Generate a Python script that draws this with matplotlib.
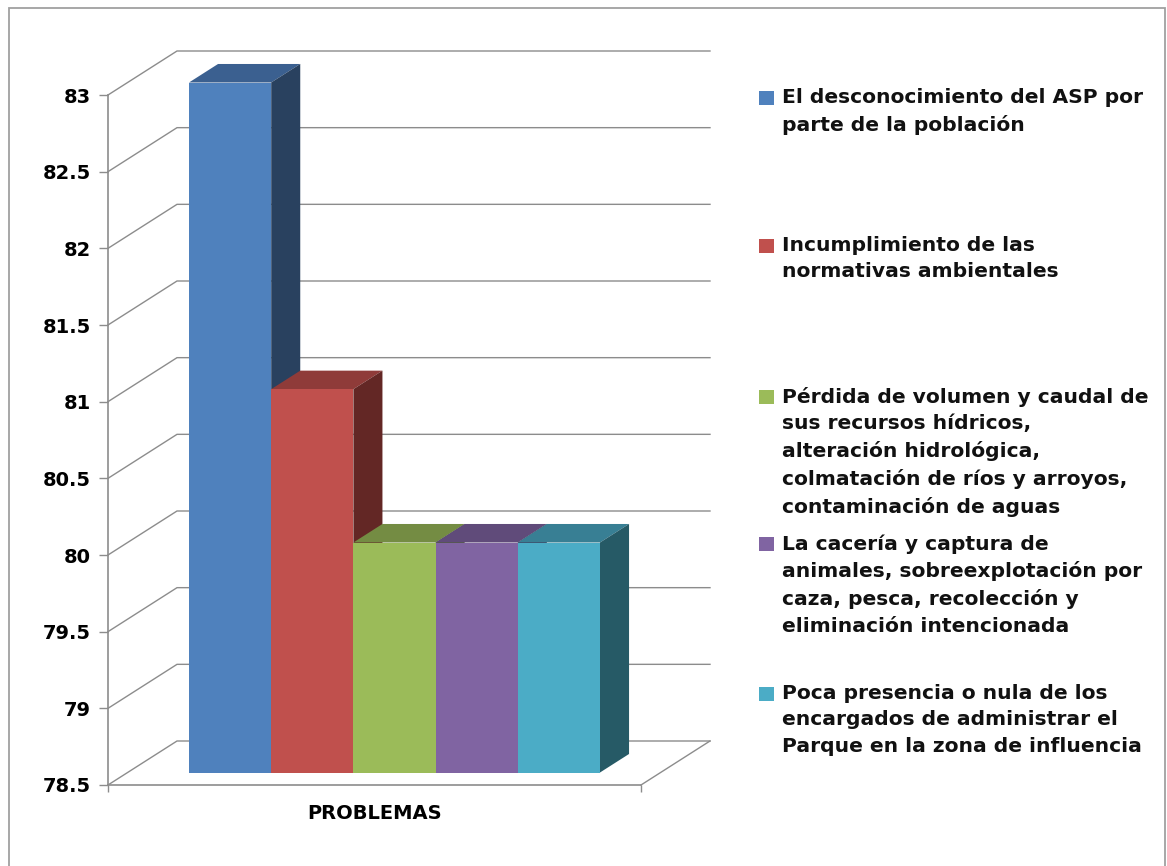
import matplotlib
matplotlib.use("Agg")
import matplotlib.pyplot as plt
from matplotlib.patches import Polygon, Rectangle
from matplotlib.ticker import FormatStrFormatter

categories = [
    "El desconocimiento del ASP por\nparte de la población",
    "Incumplimiento de las\nnormativas ambientales",
    "Pérdida de volumen y caudal de\nsus recursos hídricos,\nalteración hidrológica,\ncolmatación de ríos y arroyos,\ncontaminación de aguas",
    "La cacería y captura de\nanimales, sobreexplotación por\ncaza, pesca, recolección y\neliminación intencionada",
    "Poca presencia o nula de los\nencargados de administrar el\nParque en la zona de influencia",
]
values = [83, 81, 80, 80, 80]
y_ticks = [78.5, 79, 79.5, 80, 80.5, 81, 81.5, 82, 82.5, 83]
axis_label = "PROBLEMAS"

front_colors = ["#4F81BD", "#C0504D", "#9BBB59", "#8064A2", "#4BACC6"]
top_colors = ["#3B6090", "#8F3B39", "#748C43", "#604B7A", "#387F94"]
side_colors = ["#29415F", "#632725", "#4F6230", "#423454", "#265A66"]
legend_y = [98, 246, 397, 544, 694]

W, H = 1167, 866
fig = plt.figure(figsize=(W / 100, H / 100), dpi=100)
fig.patch.set_facecolor("white")
plt.rcParams["font.family"] = ["DejaVu Sans"]

AX_L, AX_R, AX_T, AX_B = 108, 641, 95, 785
ax = fig.add_axes([AX_L / W, 1 - AX_B / H, (AX_R - AX_L) / W, (AX_B - AX_T) / H])
ax.set_facecolor("none")

unit_px = 82.2
x0 = -0.5 - (169.4 - AX_L) / unit_px
x1 = x0 + (AX_R - AX_L) / unit_px
ax.set_xlim(x0, x1)
ax.set_ylim(y_ticks[0], y_ticks[-1])
val_px = (AX_B - AX_T) / (y_ticks[-1] - y_ticks[0])

# oblique depth vector (full chart depth), expressed in data units
DX, DY = 69 / unit_px, 44 / val_px
GRID = "#8C8C8C"


def proj(x, y, d):
    return x + d * DX, y + d * DY


# back wall gridlines and left wall diagonals
for v in y_ticks:
    a = proj(x0, v, 0)
    b = proj(x0, v, 1)
    c = proj(x1, v, 1)
    ax.plot([a[0], b[0], c[0]], [a[1], b[1], c[1]], color=GRID, lw=1.0,
            clip_on=False, zorder=1, solid_joinstyle="miter")
# floor right edge
a = proj(x1, y_ticks[0], 0)
b = proj(x1, y_ticks[0], 1)
ax.plot([a[0], b[0]], [a[1], b[1]], color=GRID, lw=1.0, clip_on=False, zorder=1)

# bars
d_front, d_back = 0.284, 0.705
base = y_ticks[0]
for i, v in enumerate(values):
    xl, xr = i - 0.5, i + 0.5
    z = 2 + i
    top = [proj(xl, v, d_front), proj(xr, v, d_front), proj(xr, v, d_back), proj(xl, v, d_back)]
    side = [proj(xr, base, d_front), proj(xr, v, d_front), proj(xr, v, d_back), proj(xr, base, d_back)]
    ax.add_patch(Polygon(top, closed=True, fc=top_colors[i], ec="none", clip_on=False, zorder=z))
    ax.add_patch(Polygon(side, closed=True, fc=side_colors[i], ec="none", clip_on=False, zorder=z))
    fx, fy = proj(i, base, d_front)
    ax.bar(fx, v - base, width=1.0, bottom=fy, color=front_colors[i], edgecolor="none",
           clip_on=False, zorder=z + 0.5)

# axes
for s in ("top", "right"):
    ax.spines[s].set_visible(False)
for s in ("left", "bottom"):
    ax.spines[s].set_color(GRID)
    ax.spines[s].set_linewidth(1.2)
    ax.spines[s].set_zorder(20)
ax.set_yticks(y_ticks)
ax.yaxis.set_major_formatter(FormatStrFormatter("%g"))
ax.tick_params(axis="y", length=6.5, width=1.0, color=GRID, pad=6, labelsize=14, labelcolor="black")
for t in ax.get_yticklabels():
    t.set_fontweight("bold")
ax.set_xticks([x0, x1])
ax.set_xticklabels(["", ""])
ax.tick_params(axis="x", length=5, width=1.0, color=GRID)
ax.set_xlabel(axis_label, fontsize=14, fontweight="bold", labelpad=5, color="black")

# legend
for name, col, y in zip(categories, front_colors, legend_y):
    fig.add_artist(Rectangle((759 / W, 1 - (y + 7) / H), 15 / W, 14 / H, fc=col, ec="none",
                             transform=fig.transFigure))
    fig.text(782 / W, 1 - (y - 10) / H, name, fontsize=14.6, fontweight="bold", color="#111111",
             ha="left", va="top", linespacing=1.49)

# frame of the chart area (its bottom edge falls outside the picture)
fig.add_artist(Rectangle((8.5 / W, -0.02), (1165 - 8.5) / W, 1.02 - 7.5 / H, fc="none", ec="#A0A0A0",
                         lw=1.3, transform=fig.transFigure, clip_on=False))

fig.savefig("out.png", dpi=100, facecolor="white")
